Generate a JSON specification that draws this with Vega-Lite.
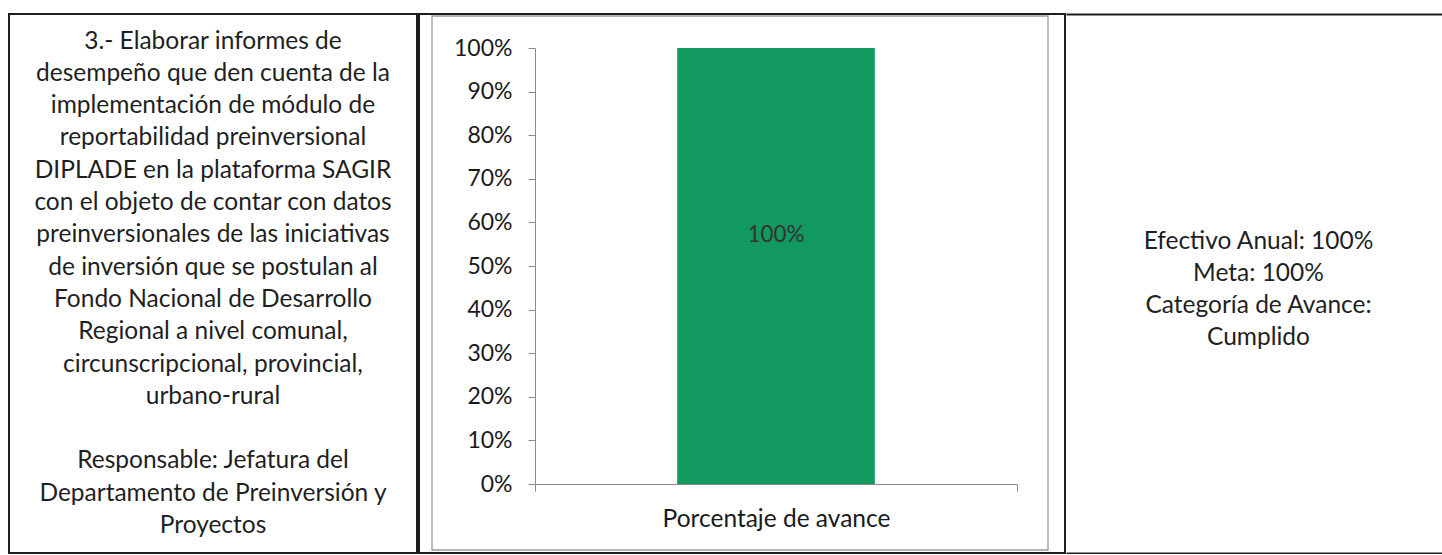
{
  "$schema": "https://vega.github.io/schema/vega-lite/v6.json",
  "background": "white",
  "padding": {"left": 8, "top": 13, "right": 0, "bottom": 0},
  "spacing": 0,
  "config": {
    "view": {"stroke": "#1e1e1e", "strokeWidth": 2},
    "font": "Lato",
    "axis": {"labelFont": "Lato", "grid": false}
  },
  "datasets": {
    "izquierda": [
      {"linea": 0, "texto": "3.- Elaborar informes de"},
      {"linea": 1, "texto": "desempeño que den cuenta de la"},
      {"linea": 2, "texto": "implementación de módulo de"},
      {"linea": 3, "texto": "reportabilidad preinversional"},
      {"linea": 4, "texto": "DIPLADE en la plataforma SAGIR"},
      {"linea": 5, "texto": "con el objeto de contar con datos"},
      {"linea": 6, "texto": "preinversionales de las iniciativas"},
      {"linea": 7, "texto": "de inversión que se postulan al"},
      {"linea": 8, "texto": "Fondo Nacional de Desarrollo"},
      {"linea": 9, "texto": "Regional a nivel comunal,"},
      {"linea": 10, "texto": "circunscripcional, provincial,"},
      {"linea": 11, "texto": "urbano-rural"},
      {"linea": 13, "texto": "Responsable: Jefatura del"},
      {"linea": 14, "texto": "Departamento de Preinversión y"},
      {"linea": 15, "texto": "Proyectos"}
    ],
    "avance": [
      {"indicador": "Porcentaje de avance", "porcentaje": 1.0, "etiqueta": "100%"}
    ],
    "derecha": [
      {"linea": 0, "texto": "Efectivo Anual: 100%"},
      {"linea": 1, "texto": "Meta: 100%"},
      {"linea": 2, "texto": "Categoría de Avance:"},
      {"linea": 3, "texto": "Cumplido"}
    ]
  },
  "hconcat": [
    {
      "width": 408,
      "height": 539,
      "data": {"name": "izquierda"},
      "mark": {"type": "text", "fontSize": 24.5, "color": "#1f1f1f", "baseline": "middle", "align": "center"},
      "encoding": {
        "x": {"datum": 0.5, "type": "quantitative", "scale": {"domain": [0, 1], "nice": false, "zero": false}, "axis": null},
        "y": {"field": "linea", "type": "quantitative", "scale": {"domain": [0, 15], "range": [27.6, 512], "nice": false, "zero": false}, "axis": null},
        "text": {"field": "texto"}
      }
    },
    {
      "width": 646,
      "height": 539,
      "data": {"name": "avance"},
      "layer": [
        {
          "encoding": {
            "x": {
              "field": "indicador",
              "type": "nominal",
              "scale": {"range": [116, 598], "paddingInner": 0, "paddingOuter": 0},
              "axis": {
                "orient": "bottom",
                "offset": -69,
                "tickBand": "extent",
                "tickSize": 7,
                "labelPadding": 16,
                "labelFontSize": 24.5,
                "labelColor": "#1a1a1a",
                "labelAngle": 0,
                "labelLimit": 0,
                "domainColor": "#8a8a8a",
                "tickColor": "#8a8a8a",
                "title": null
              }
            },
            "y": {
              "field": "porcentaje",
              "type": "quantitative",
              "scale": {"domain": [0, 1], "range": [470, 34], "nice": false},
              "axis": {
                "values": [0, 0.1, 0.2, 0.3, 0.4, 0.5, 0.6, 0.7, 0.8, 0.9, 1],
                "format": ".0%",
                "offset": -116,
                "tickSize": 7,
                "labelPadding": 16,
                "labelFontSize": 23,
                "labelColor": "#1a1a1a",
                "domainColor": "#8a8a8a",
                "tickColor": "#8a8a8a",
                "title": null
              }
            }
          },
          "layer": [
            {"mark": {"type": "bar", "color": "#11995f", "width": {"band": 0.41}}},
            {
              "mark": {"type": "text", "dy": 187, "fontSize": 22.5, "color": "#333333", "baseline": "middle"},
              "encoding": {"text": {"field": "etiqueta"}}
            }
          ]
        },
        {
          "mark": {"type": "rect", "fillOpacity": 0, "stroke": "#9a9a9a", "strokeWidth": 1.3},
          "encoding": {
            "x": {"datum": 0, "type": "quantitative", "scale": {"domain": [0, 1], "range": [13, 629], "nice": false, "zero": false}, "axis": null},
            "x2": {"datum": 1},
            "y": {"datum": 0, "type": "quantitative", "scale": {"domain": [0, 1], "range": [536, 2], "nice": false, "zero": false}, "axis": null},
            "y2": {"datum": 1}
          }
        }
      ],
      "resolve": {"scale": {"x": "independent", "y": "independent"}}
    },
    {
      "width": 377,
      "height": 539,
      "view": {"stroke": null},
      "data": {"name": "derecha"},
      "mark": {"type": "text", "fontSize": 24.5, "color": "#1f1f1f", "baseline": "middle", "align": "center", "dx": 4},
      "encoding": {
        "x": {"datum": 0.5, "type": "quantitative", "scale": {"domain": [0, 1], "nice": false, "zero": false}, "axis": null},
        "y": {
          "field": "linea",
          "type": "quantitative",
          "scale": {"domain": [-7.125, 9.71875], "range": [0, 539], "nice": false, "zero": false},
          "axis": {
            "values": [-7.125, 9.71875],
            "grid": true,
            "gridColor": "#1e1e1e",
            "gridWidth": 2,
            "labels": false,
            "ticks": false,
            "domain": false,
            "title": null
          }
        },
        "text": {"field": "texto"}
      }
    }
  ]
}
